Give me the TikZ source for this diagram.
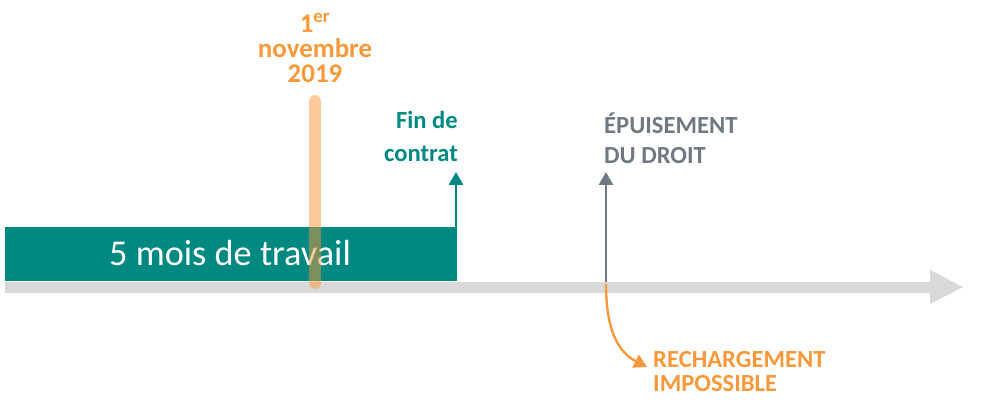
\documentclass[tikz,border=0pt]{standalone}
\usepackage{fontspec}
\setmainfont{Carlito}
\usetikzlibrary{arrows.meta}
\definecolor{teal}{RGB}{0,137,128}
\definecolor{axisgrey}{RGB}{217,217,217}
\definecolor{slate}{RGB}{112,120,130}
\definecolor{orng}{RGB}{247,152,58}
\tikzset{
  lbl/.style={font=\bfseries\fontsize{21}{26}\selectfont, inner sep=0pt},
  datelbl/.style={font=\bfseries\fontsize{23}{26}\selectfont, inner sep=0pt, text=orng},
  uparrow/.style={line width=2pt, -{Triangle[width=12pt,length=11pt]}},
}
\begin{document}
\begin{tikzpicture}[x=0.3mm,y=-0.3mm]
\useasboundingbox (0,0) rectangle (1000,415);
% axis
\fill[axisgrey] (5,282) -- (930,282) -- (930,270) -- (963,287) -- (930,304) -- (930,293) -- (5,293) -- cycle;
% work bar
\fill[teal] (5,227) rectangle (456,281);
\node[text=white, inner sep=0pt, font=\fontsize{31}{36}\selectfont, anchor=base] (work) at (230,265) {5 mois de travail};
% orange date bar
\coordinate (dtop) at (315,101);
\coordinate (dbot) at (315,283);
\draw[orng, opacity=0.5, line width=10pt, line cap=round] (dtop) -- (dbot);
\node[datelbl, anchor=base] (date1) at (315,33) {1\textsuperscript{er}};
\node[datelbl, anchor=base] (date2) at (315,58) {novembre};
\node[datelbl, anchor=base] (date3) at (315,83) {2019};
% fin de contrat
\coordinate (fbot) at (456,281);
\coordinate (ftop) at (456,172);
\draw[teal, uparrow] (fbot) -- (ftop);
\node[lbl, text=teal, anchor=base east] (fin1) at (458,129) {Fin de};
\node[lbl, text=teal, anchor=base east] (fin2) at (458,161) {contrat};
% epuisement
\coordinate (ebot) at (606,282);
\coordinate (etop) at (606,172);
\draw[slate, uparrow] (ebot) -- (etop);
\node[lbl, text=slate, anchor=base west] (epu1) at (604,133) {ÉPUISEMENT};
\node[lbl, text=slate, anchor=base west] (epu2) at (604,163) {DU DROIT};
% recharge
\coordinate (rstart) at (606,284);
\coordinate (rend) at (647,367);
\draw[orng, line width=2pt, -{Triangle[width=12pt,length=11pt]}] (rstart) .. controls (606,330) and (618,352) .. (rend);
\node[lbl, text=orng, anchor=base west] (rech1) at (653,367) {RECHARGEMENT};
\node[lbl, text=orng, anchor=base west] (rech2) at (653,391) {IMPOSSIBLE};
\end{tikzpicture}
\end{document}
